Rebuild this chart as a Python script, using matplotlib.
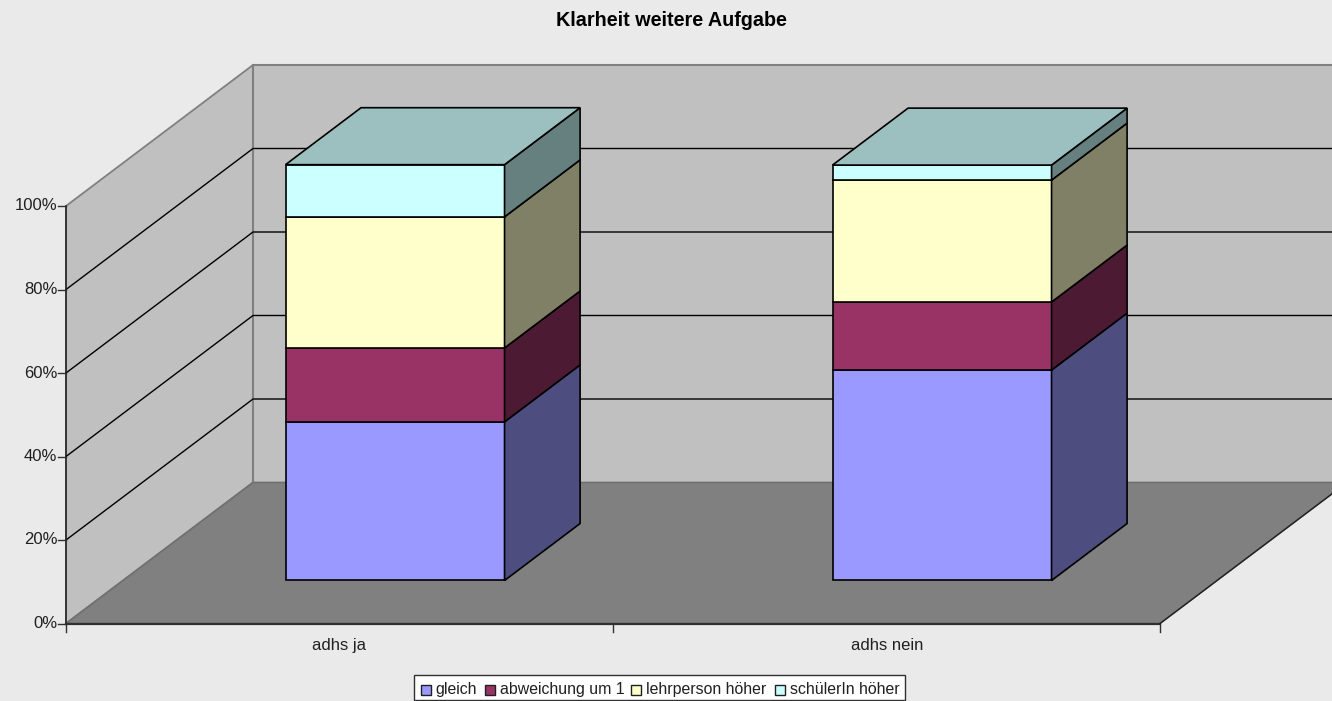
"""Klarheit weitere Aufgabe: Excel style 3D stacked percent columns."""

import matplotlib

matplotlib.use("Agg")
import matplotlib.pyplot as plt
from matplotlib.patches import Polygon, Rectangle

plt.rcParams["font.family"] = ["Liberation Sans", "DejaVu Sans"]

W, H = 1332, 701

title = "Klarheit weitere Aufgabe"
categories = ["adhs ja", "adhs nein"]
series = ["gleich", "abweichung um 1", "lehrperson höher", "schülerIn höher"]
gleich = [38.0, 50.4]
abweichung = [17.7, 16.3]
lehrperson = [31.4, 29.2]
schueler = [12.5, 3.6]
y_ticks = [0, 20, 40, 60, 80, 100]

colors = ["#9999FF", "#993366", "#FFFFCC", "#CCFFFF"]
side_colors = ["#4D4D80", "#4D1A33", "#808066", "#668080"]
top_color = "#9CC0BF"

# plot box in pixels
X0, X1 = 66, 1160
Y0, Y100 = 623.5, 206
DX, DY = 187, -141
BAR_W = 219 / 547
BAR_SHIFT = -1.5 / 547
BAR_D0, BAR_D1 = 0.305, 0.709


def proj(cat, pct, depth=0.0):
    """category units, percent, depth 0..1 -> pixel position"""
    x = X0 + (X1 - X0) / 2 * cat + DX * depth
    y = Y0 + (Y100 - Y0) * pct / 100 + DY * depth
    return x, y


def poly(ax, pts, fc, ec="black", lw=1.2, z=1):
    ax.add_patch(Polygon(pts, closed=True, fc=fc, ec=ec, lw=lw, zorder=z, joinstyle="miter"))


fig = plt.figure(figsize=(W / 100, H / 100), dpi=100, facecolor="#EAEAEA")
ax = fig.add_axes([0, 0, 1, 1])
ax.set_xlim(0, W)
ax.set_ylim(H, 0)
ax.axis("off")

# walls and floor
poly(ax, [proj(0, 0), proj(0, 100), proj(0, 100, 1), proj(0, 0, 1)], "#C0C0C0", "#808080", 1.3)
poly(ax, [proj(0, 0, 1), proj(0, 100, 1), proj(2, 100, 1), proj(2, 0, 1)], "#C0C0C0", "#808080", 1.5)
poly(ax, [proj(0, 0), proj(0, 0, 1), proj(2, 0, 1), proj(2, 0)], "#808080", "#707070", 1.2, z=2)

# gridlines
for t in y_ticks[1:-1]:
    ax.plot(*zip(proj(0, t), proj(0, t, 1), proj(2, t, 1)), color="black", lw=1.0, zorder=2)

# axes, ticks, labels
ax.plot(*zip(proj(0, 0), proj(0, 100)), color="#202020", lw=1.1, zorder=3)
ax.plot(*zip(proj(0, 0), proj(2, 0)), color="#303030", lw=1.6, zorder=3)
ax.plot(*zip(proj(2, 0), proj(2, 0, 1)), color="#202020", lw=1.0, zorder=3)
for t in y_ticks:
    x, y = proj(0, t)
    ax.plot([x - 8, x], [y, y], color="#303030", lw=1.0, zorder=3)
    ax.text(x - 8.5, y, f"{t}%", ha="right", va="center", fontsize=12, color="#202020")
for c in range(3):
    x, y = proj(c, 0)
    ax.plot([x, x], [y, y + 8], color="#303030", lw=1.0, zorder=3)
for i, name in enumerate(categories):
    x, y = proj(i + 0.5, 0)
    ax.text(x + i, y + 26.5, name, ha="center", va="baseline", fontsize=12, color="#202020")

# stacked columns
values = [gleich, abweichung, lehrperson, schueler]
for i in range(len(categories)):
    left = i + 0.5 - BAR_W / 2 + BAR_SHIFT
    right = i + 0.5 + BAR_W / 2 + BAR_SHIFT
    base = 0.0
    for s, vals in enumerate(values):
        top = base + vals[i]
        poly(ax, [proj(left, base, BAR_D0), proj(left, top, BAR_D0),
                  proj(right, top, BAR_D0), proj(right, base, BAR_D0)], colors[s], z=5)
        poly(ax, [proj(right, base, BAR_D0), proj(right, top, BAR_D0),
                  proj(right, top, BAR_D1), proj(right, base, BAR_D1)], side_colors[s], z=5)
        base = top
    poly(ax, [proj(left, base, BAR_D0), proj(left, base, BAR_D1),
              proj(right, base, BAR_D1), proj(right, base, BAR_D0)], top_color, z=5)

ax.text(671, 26, title, ha="center", va="baseline", fontsize=14.2, fontweight="bold", color="black")

# legend, drawn by hand because of the tight Excel spacing
ax.add_patch(Rectangle((414, 675), 491, 25, fc="white", ec="#303030", lw=1.0, zorder=6))
swatch_x = [420.5, 485, 631, 775]
for x, name, col in zip(swatch_x, series, colors):
    ax.add_patch(Rectangle((x, 685), 10, 10, fc=col, ec="#202020", lw=1.0, zorder=7))
    ax.text(x + 15, 694, name, ha="left", va="baseline", fontsize=11.4, color="#202020", zorder=7)

fig.savefig("out.png", dpi=100, facecolor=fig.get_facecolor())
plt.close(fig)
